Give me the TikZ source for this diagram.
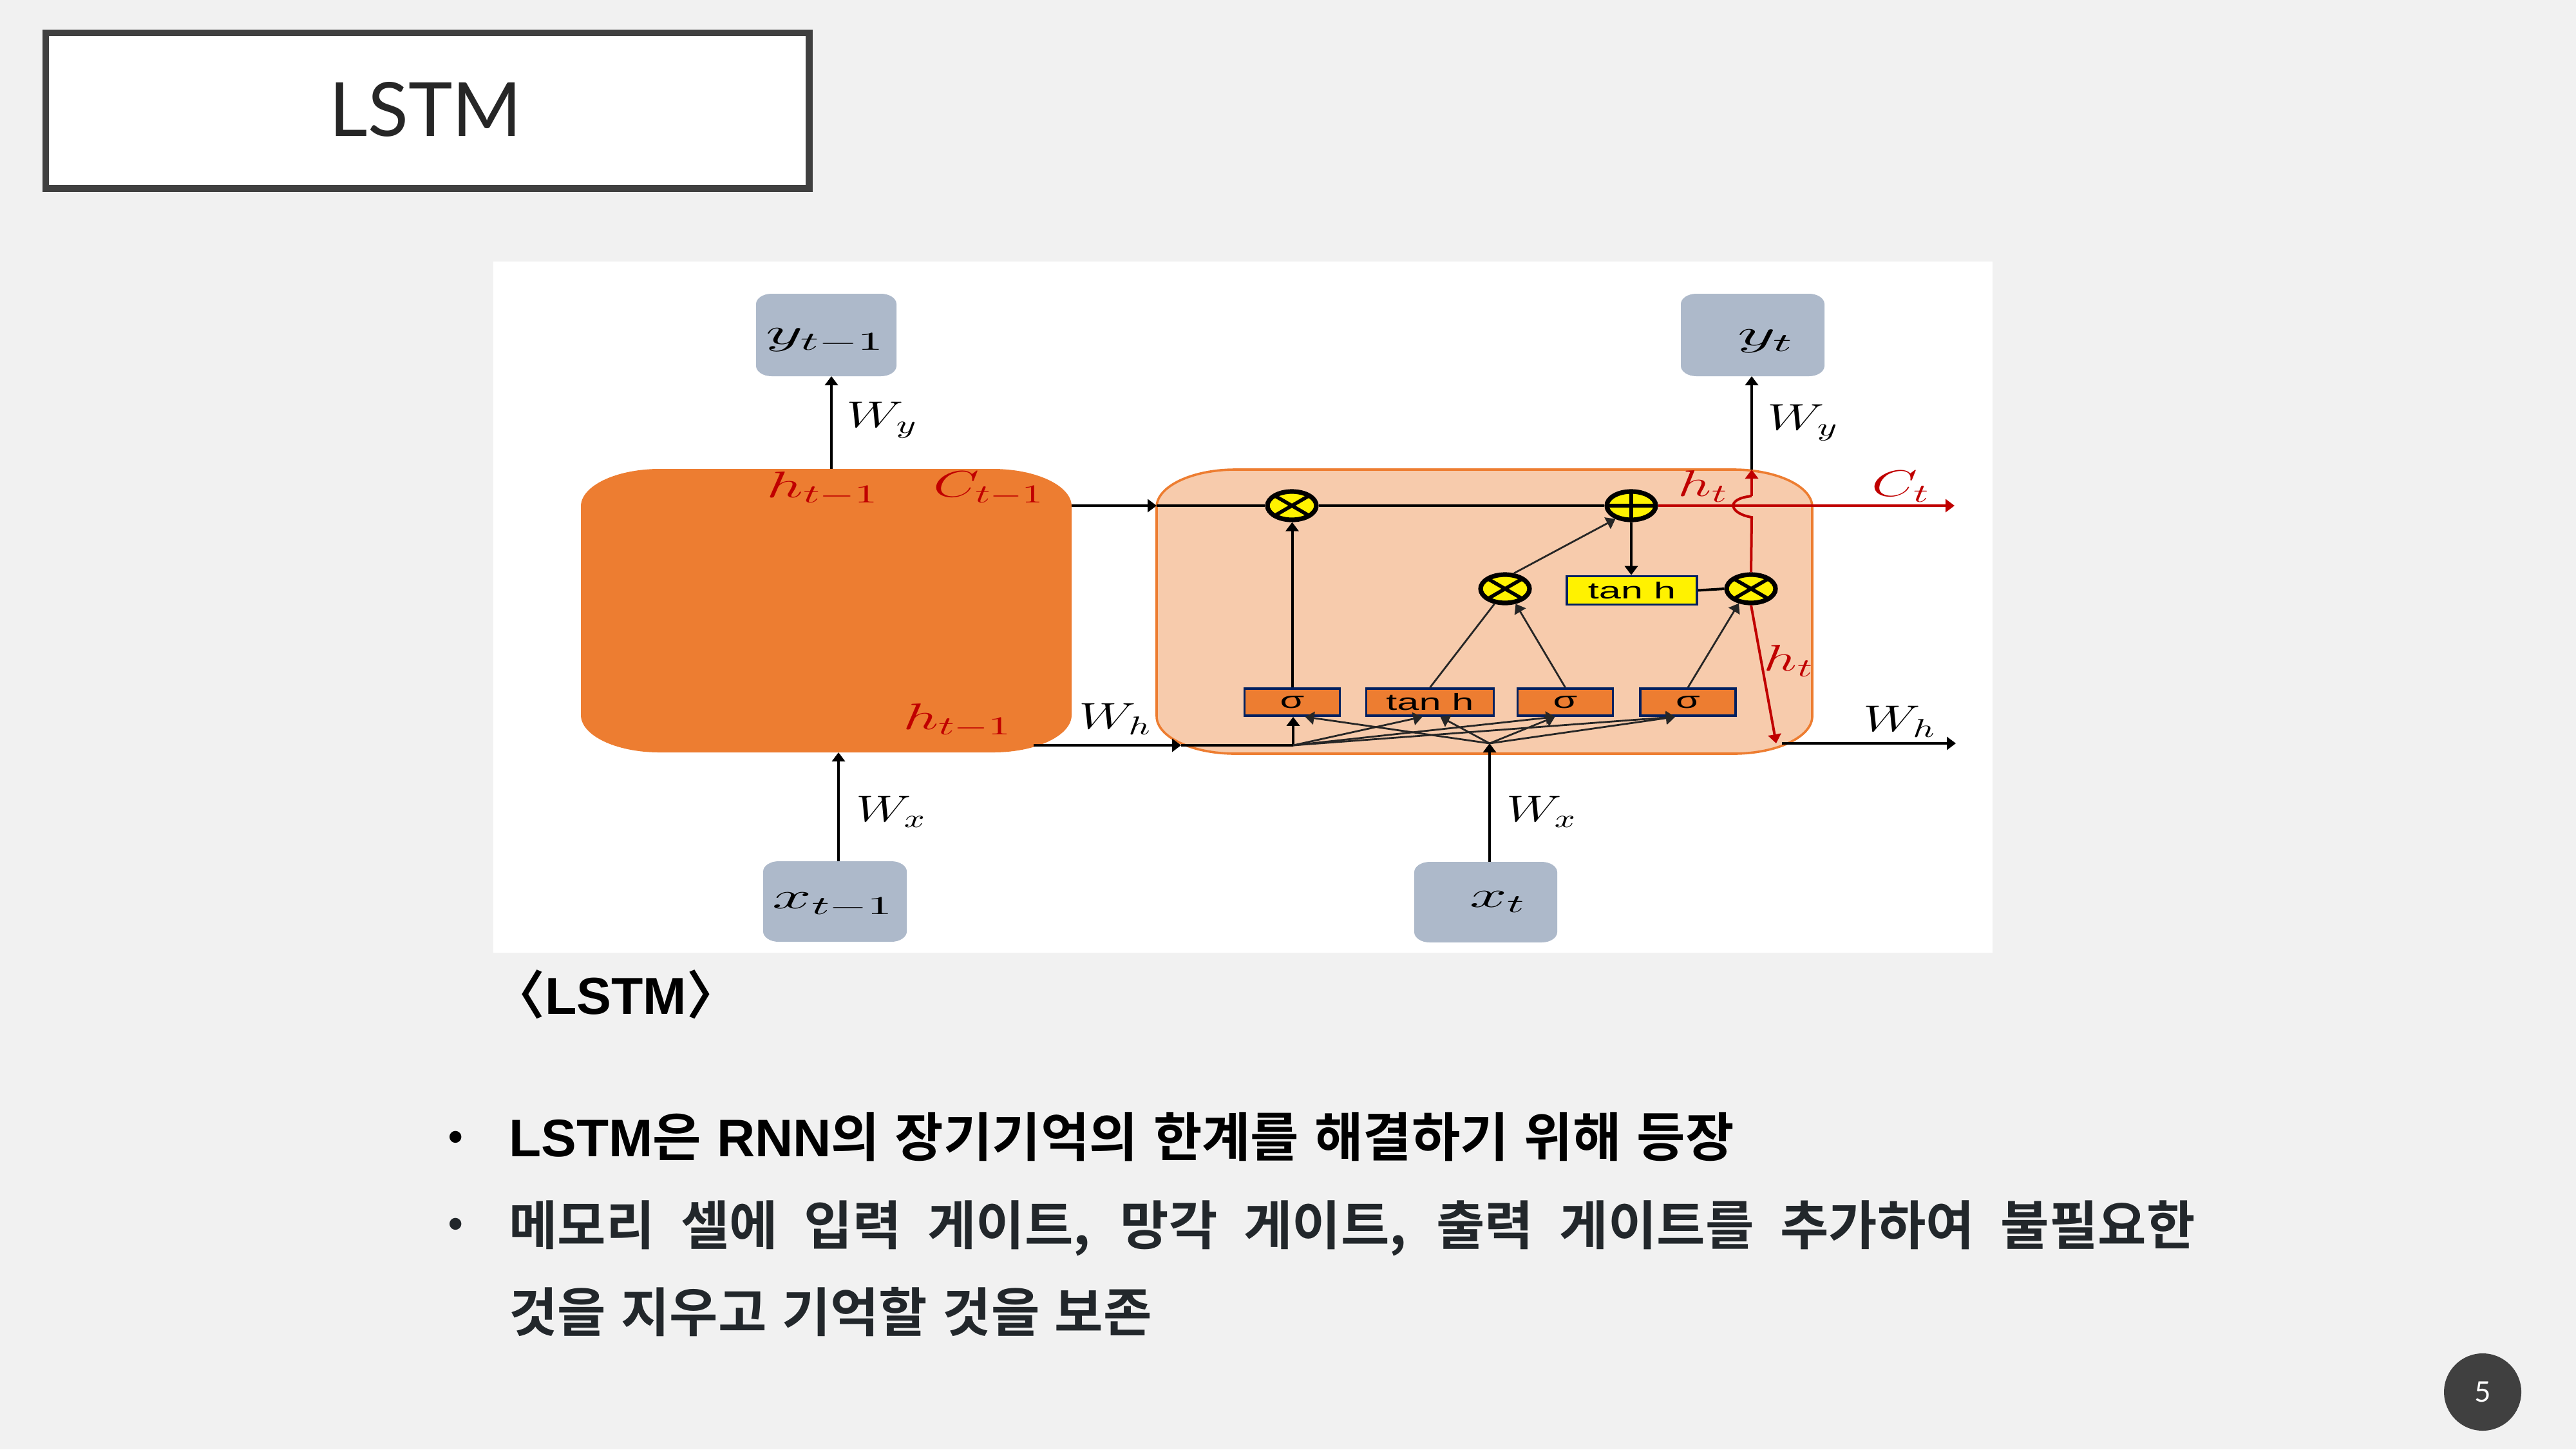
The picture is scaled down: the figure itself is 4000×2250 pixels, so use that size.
\documentclass[tikz,border=0pt]{standalone}
\usepackage{graphicx}
\usepackage{fontspec}
\setmainfont{Liberation Sans}
\newfontfamily\kofont{Noto Sans CJK KR}[BoldFont=Noto Sans CJK KR Bold]
\newfontfamily\titlefont{Lato}
\usetikzlibrary{arrows.meta,shapes.geometric,calc}
\definecolor{slidebg}{HTML}{F1F1F1}
\definecolor{titlegray}{HTML}{404040}
\definecolor{cellorange}{HTML}{ED7D31}
\definecolor{cellpeach}{HTML}{F7CBAC}
\definecolor{iogray}{HTML}{ADB9CA}
\definecolor{wirered}{HTML}{C00000}
\definecolor{gatenavy}{HTML}{002060}
\definecolor{bodydark}{HTML}{22272B}
\newcommand{\wide}[2][1.6]{\scalebox{#1}[1]{\Large$#2$}}
\newcommand{\gatetext}[1]{\scalebox{1.7}[1]{\fontsize{9}{10}\selectfont #1}}
% options, node, corner width, corner height
\newcommand{\softbox}[4]{
  \path [#1] ($(#2.north west)+(#3,0)$) -- ($(#2.north east)+(-#3,0)$)
    .. controls ($(#2.north east)+(-0.45*#3,0)$) and ($(#2.north east)+(0,0.45*#4)$) .. ($(#2.north east)+(0,#4)$)
    -- ($(#2.south east)+(0,-#4)$)
    .. controls ($(#2.south east)+(0,-0.45*#4)$) and ($(#2.south east)+(-0.45*#3,0)$) .. ($(#2.south east)+(-#3,0)$)
    -- ($(#2.south west)+(#3,0)$)
    .. controls ($(#2.south west)+(0.45*#3,0)$) and ($(#2.south west)+(0,-0.45*#4)$) .. ($(#2.south west)+(0,-#4)$)
    -- ($(#2.north west)+(0,#4)$)
    .. controls ($(#2.north west)+(0,0.45*#4)$) and ($(#2.north west)+(0.45*#3,0)$) .. ($(#2.north west)+(#3,0)$) -- cycle;
}
\tikzset{
  every picture/.style={line width=0.75pt},
  boxarea/.style={rectangle,inner sep=0pt,outer sep=0pt},
  gatebox/.style={rectangle,draw=gatenavy,line width=0.9pt,inner sep=0pt,minimum height=10.5pt},
  mulop/.style={ellipse,draw=black,line width=1.8pt,fill=yellow,inner sep=0pt,minimum width=19pt,minimum height=11pt,
    path picture={\draw[line width=1.4pt] (path picture bounding box.north west) -- (path picture bounding box.south east) (path picture bounding box.south west) -- (path picture bounding box.north east);}},
  addop/.style={ellipse,draw=black,line width=1.8pt,fill=yellow,inner sep=0pt,minimum width=19pt,minimum height=11pt,
    path picture={\draw[line width=1.4pt] (path picture bounding box.north) -- (path picture bounding box.south) (path picture bounding box.west) -- (path picture bounding box.east);}},
  wire/.style={draw=black,line width=1pt},
  thinwire/.style={draw=black!85,line width=0.7pt},
  redwire/.style={draw=wirered,line width=1pt},
  tip/.style={-{Triangle[length=3.5pt,width=5pt]}},
}

\begin{document}
\begin{tikzpicture}[x=0.25pt,y=0.25pt,yscale=-1,xscale=1]
\useasboundingbox (0,0) rectangle (4000,2250);

%Shape: Slide background
\fill [slidebg] (0,0) rectangle (4000,2250);
%Shape: Title box
\node [draw=titlegray,line width=2.6pt,fill=white,minimum width=296.4pt,minimum height=60.4pt,inner sep=0pt] (titlebox) at (663.5,171.5) {};
%Shape: Diagram sheet
\fill [white] (766,406) rectangle (3094,1479);

%Shape: Cells
\node [boxarea,minimum width=190.5pt,minimum height=110pt] (prevcell) at (1283,948) {};
\softbox{fill=cellorange}{prevcell}{122}{58}
\node [boxarea,minimum width=254.5pt,minimum height=110.25pt] (curcell) at (2305,949.5) {};
\softbox{fill=cellpeach,draw=cellorange,line width=0.9pt}{curcell}{122}{58}

%Shape: Input and output boxes
\node [boxarea,minimum width=54.5pt,minimum height=32pt] (yprev) at (1283,520) {};
\node [boxarea,minimum width=55.75pt,minimum height=31.25pt] (xprev) at (1296.5,1399.5) {};
\node [boxarea,minimum width=55.75pt,minimum height=32pt] (ycur) at (2721.5,520) {};
\node [boxarea,minimum width=55.5pt,minimum height=31.25pt] (xcur) at (2307,1400.5) {};
\foreach \ionode in {yprev,xprev,ycur,xcur}
  {\softbox{fill=iogray}{\ionode}{24}{16}}

%Shape: Gates
\node [gatebox,fill=cellorange,minimum width=37pt] (sigone) at (2006.5,1090) {\gatetext{σ}};
\node [gatebox,fill=cellorange,minimum width=49.5pt] (tanone) at (2220.5,1090) {\gatetext{tan h}};
\node [gatebox,fill=cellorange,minimum width=37pt] (sigtwo) at (2430.5,1090) {\gatetext{σ}};
\node [gatebox,fill=cellorange,minimum width=37pt] (sigthree) at (2621,1090) {\gatetext{σ}};
\node [gatebox,fill=yellow,minimum width=50.5pt,minimum height=11pt] (tantop) at (2534,916.5) {\gatetext{tan h}};
\node [mulop] (mulone) at (2006,785) {};
\node [addop] (addtop) at (2533,785) {};
\node [mulop] (mulmid) at (2337,914) {};
\node [mulop] (mulright) at (2719,914) {};

%Points on the wires
\coordinate (hprevup) at (1291,728);
\coordinate (xprevup) at (1302,1337);
\coordinate (xprevin) at (1302,1168);
\coordinate (cprevout) at (1664,785);
\coordinate (cellin) at (1796,785);
\coordinate (hprevout) at (1605,1157);
\coordinate (hcellin) at (1834,1157);
\coordinate (jleft) at (2008,1157);
\coordinate (jright) at (2313,1154);
\coordinate (ctout) at (3035,785);
\coordinate (bumplow) at (2720,803);
\coordinate (bumphigh) at (2720,770);
\coordinate (hcelltop) at (2720,729);
\coordinate (hdown) at (2758,1154);
\coordinate (hcellout) at (2767,1154);
\coordinate (wout) at (3037,1154);

%Straight Lines: previous cell
\draw [wire,tip] (hprevup) -- (hprevup |- yprev.south);
\draw [wire,tip] (xprevup) -- (xprevin);
\draw [wire,tip] (cprevout) -- (cellin);
\draw [wire] (cellin) -- (mulone.west);
\draw [wire] (mulone.east) -- (addtop.west);
\draw [wire,tip] (hprevout) -- (hcellin);
\draw [wire] (hcellin) -- (jleft);
%Straight Lines: current input
\draw [wire,tip] (jright |- xcur.north) -- (jright);
%Straight Lines: fan into the gates
\draw [wire,tip] (jleft) -- (jleft |- sigone.south);
\foreach \gate/\shift in {tanone/-3pt,sigtwo/-4pt,sigthree/-5pt}
  \draw [thinwire,tip] (jleft) -- ([xshift=\shift]\gate.south);
\foreach \gate/\shift in {sigone/5pt,tanone/4pt,sigtwo/-4pt,sigthree/-5pt}
  \draw [thinwire,tip] (jright) -- ([xshift=\shift]\gate.south);
%Straight Lines: gates to operators
\draw [wire,tip] (sigone.north) -- (sigone.north |- mulone.south);
\draw [thinwire] (tanone.north) -- (mulmid.235);
\draw [thinwire,tip] (sigtwo.north) -- (mulmid.-55);
\draw [thinwire,tip] (sigthree.north) -- (mulright.230);
\draw [thinwire,tip] (mulmid.60) -- (addtop.220);
\draw [wire,tip] (addtop.south) -- (addtop.south |- tantop.north);
\draw [wire] (tantop.east) -- (mulright.west);
%Curve Lines: red outputs
\draw [redwire,tip] (addtop.east) -- (ctout);
\draw [redwire] (mulright.north) -- (bumplow) .. controls (2688,798) and (2676,775) .. (bumphigh);
\draw [redwire,tip] (bumphigh) -- (hcelltop);
\draw [wire,tip] (hcelltop) -- (hcelltop |- ycur.south);
\draw [redwire,tip] (mulright.south) -- (hdown);
\draw [wire,tip] (hcellout) -- (wout);

% Text Node
\node (titletext) at (661,170) {\titlefont\fontsize{29}{36}\selectfont\color{black!85}LSTM};
% Text Node
\node [inner sep=0pt] (yprevlabel) at (1282,528) {\wide[1.95]{y_{t-1}}};
\node [inner sep=0pt] (xprevlabel) at (1294,1404) {\wide[1.9]{x_{t-1}}};
\node [inner sep=0pt] (ycurlabel) at (2742,530) {\wide[2]{y_t}};
\node [inner sep=0pt] (xcurlabel) at (2326,1400) {\wide[1.8]{x_t}};
% Text Node
\node [inner sep=0pt] (wyprev) at (1370,652) {\wide[1.45]{W_y}};
\node [inner sep=0pt] (wxprev) at (1384,1260) {\wide[1.4]{W_x}};
\node [inner sep=0pt] (whprev) at (1732,1116) {\wide[1.45]{W_h}};
\node [inner sep=0pt] (wycur) at (2800,656) {\wide[1.45]{W_y}};
\node [inner sep=0pt] (wxcur) at (2394,1260) {\wide[1.4]{W_x}};
\node [inner sep=0pt] (whcur) at (2950,1120) {\wide[1.45]{W_h}};
% Text Node
\node [inner sep=0pt,text=wirered] (hprevtop) at (1278,758) {\wide[1.75]{h_{t-1}}};
\node [inner sep=0pt,text=wirered] (ctprev) at (1536,758) {\wide{C_{t-1}}};
\node [inner sep=0pt,text=wirered] (hprevlow) at (1487,1118) {\wide[1.7]{h_{t-1}}};
\node [inner sep=0pt,text=wirered] (htcur) at (2645,755) {\wide{h_t}};
\node [inner sep=0pt,text=wirered] (ctcur) at (2952,755) {\wide{C_t}};
\node [inner sep=0pt,text=wirered] (htlow) at (2778,1026) {\wide{h_t}};

% Text Node
\node [anchor=base west,inner sep=0pt] (captiontext) at (764,1574) {\kofont\bfseries\fontsize{20.2}{24}\selectfont 〈{\rmfamily\bfseries LSTM}〉};
% Text Node
\node [inner sep=0pt] (bulletone) at (708,1771) {\fontsize{16}{20}\selectfont\bfseries •};
\node [inner sep=0pt,text=bodydark] (bullettwo) at (708,1906) {\fontsize{16}{20}\selectfont\bfseries •};
% Text Node
\node [anchor=base west,inner sep=0pt] (lineone) at (789,1795) {\kofont\bfseries\fontsize{20.5}{24}\selectfont\makebox[475.5pt][s]{{\rmfamily\bfseries LSTM}은 {\rmfamily\bfseries RNN}의 장기기억의 한계를 해결하기 위해 등장}};
\node [anchor=base west,inner sep=0pt,text=bodydark] (linetwo) at (789,1932) {\kofont\bfseries\fontsize{20.5}{24}\selectfont\makebox[654.5pt][s]{메모리 셀에 입력 게이트, 망각 게이트, 출력 게이트를 추가하여 불필요한}};
\node [anchor=base west,inner sep=0pt,text=bodydark] (linethree) at (789,2067) {\kofont\bfseries\fontsize{20.5}{24}\selectfont\makebox[249.5pt][s]{것을 지우고 기억할 것을 보존}};

%Shape: Page number
\node [circle,fill=titlegray,minimum size=30pt,inner sep=0pt,text=white] (pagemark) at (3855,2161) {\titlefont\fontsize{11}{13}\selectfont 5};

\end{tikzpicture}
\end{document}
